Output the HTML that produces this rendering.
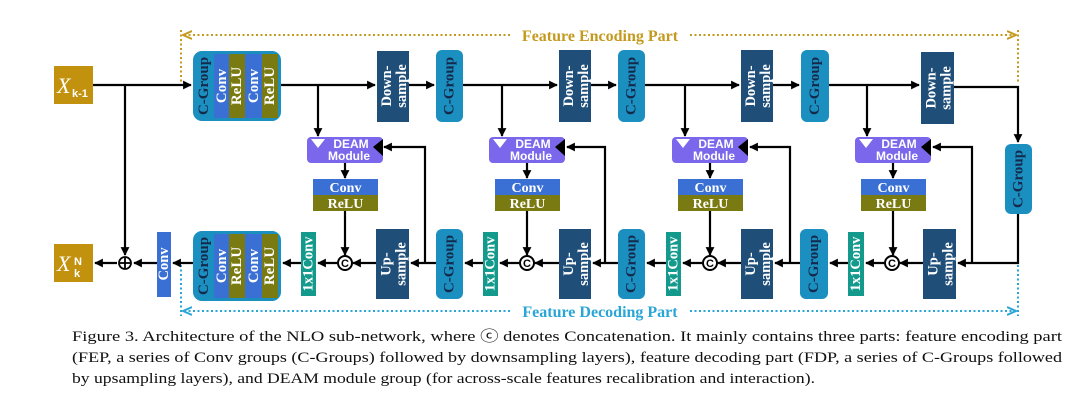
<!DOCTYPE html>
<html><head><meta charset="utf-8"><style>
html,body{margin:0;padding:0;background:#fff;}
svg{display:block;}
.w{font-family:"Liberation Serif",serif;font-weight:bold;fill:#fff;}
.s{font-family:"Liberation Sans",sans-serif;font-weight:bold;fill:#fff;}
.cap{font-family:"Liberation Serif",serif;font-size:15px;fill:#111;}
</style></head><body>
<svg width="1080" height="408" viewBox="0 0 1080 408" xmlns="http://www.w3.org/2000/svg">
<defs>
<marker id="a" viewBox="0 0 10 10" refX="9" refY="5" markerWidth="4" markerHeight="4" orient="auto"><path d="M0,0L10,5L0,10z" fill="#000"/></marker>
<marker id="g" viewBox="0 0 10 10" refX="9" refY="5" markerWidth="5" markerHeight="5" orient="auto"><path d="M0,1L9,5L0,9" fill="none" stroke="#c49a1e" stroke-width="2"/></marker>
<marker id="b" viewBox="0 0 10 10" refX="9" refY="5" markerWidth="5" markerHeight="5" orient="auto"><path d="M0,1L9,5L0,9" fill="none" stroke="#2aa6d6" stroke-width="2"/></marker>
</defs>

<g stroke-width="2" stroke-dasharray="2,2.5" fill="none">
<line x1="510" y1="35" x2="183" y2="35" stroke="#c49a1e" marker-end="url(#g)"/>
<line x1="690" y1="35" x2="1016" y2="35" stroke="#c49a1e" marker-end="url(#g)"/>
<line x1="181" y1="30" x2="181" y2="84" stroke="#c49a1e"/>
<line x1="1018" y1="30" x2="1018" y2="84" stroke="#c49a1e"/>
<line x1="510" y1="311" x2="183" y2="311" stroke="#2aa6d6" marker-end="url(#b)"/>
<line x1="690" y1="311" x2="1016" y2="311" stroke="#2aa6d6" marker-end="url(#b)"/>
<line x1="181" y1="265" x2="181" y2="316" stroke="#2aa6d6"/>
<line x1="1018" y1="265" x2="1018" y2="316" stroke="#2aa6d6"/>
</g>
<text x="600" y="41" text-anchor="middle" font-family="Liberation Serif,serif" font-weight="bold" font-size="16" fill="#c49a1e">Feature Encoding Part</text>
<text x="600" y="317" text-anchor="middle" font-family="Liberation Serif,serif" font-weight="bold" font-size="16" fill="#2aa6d6">Feature Decoding Part</text>

<g stroke="#000" stroke-width="2.2" fill="none">
<line x1="93" y1="85" x2="191" y2="85" marker-end="url(#a)"/>
<line x1="125" y1="85" x2="125" y2="255" marker-end="url(#a)"/>
<line x1="281" y1="85" x2="375" y2="85" marker-end="url(#a)"/>
<line x1="409" y1="85" x2="434" y2="85" marker-end="url(#a)"/>
<line x1="463" y1="85" x2="557" y2="85" marker-end="url(#a)"/>
<line x1="591" y1="85" x2="616" y2="85" marker-end="url(#a)"/>
<line x1="645" y1="85" x2="739" y2="85" marker-end="url(#a)"/>
<line x1="773" y1="85" x2="799" y2="85" marker-end="url(#a)"/>
<line x1="829" y1="85" x2="919" y2="85" marker-end="url(#a)"/>
<polyline points="954,87 1018,87 1018,142" marker-end="url(#a)"/>
<polyline points="1018,214 1018,263 958,263" marker-end="url(#a)"/>
<line x1="318" y1="85" x2="318" y2="136" marker-end="url(#a)"/>
<line x1="502" y1="85" x2="502" y2="136" marker-end="url(#a)"/>
<line x1="685" y1="85" x2="685" y2="136" marker-end="url(#a)"/>
<line x1="867" y1="85" x2="867" y2="136" marker-end="url(#a)"/>
<line x1="436" y1="263" x2="411" y2="263" marker-end="url(#a)"/>
<line x1="376" y1="263" x2="353" y2="263" marker-end="url(#a)"/>
<line x1="337" y1="263" x2="318" y2="263" marker-end="url(#a)"/>
<line x1="301" y1="263" x2="283" y2="263" marker-end="url(#a)"/>
<line x1="193" y1="263" x2="173" y2="263" marker-end="url(#a)"/>
<line x1="157" y1="263" x2="134" y2="263" marker-end="url(#a)"/>
<line x1="117" y1="263" x2="95" y2="263" marker-end="url(#a)"/>
<line x1="618" y1="263" x2="593" y2="263" marker-end="url(#a)"/>
<line x1="559" y1="263" x2="535" y2="263" marker-end="url(#a)"/>
<line x1="519" y1="263" x2="500" y2="263" marker-end="url(#a)"/>
<line x1="483" y1="263" x2="465" y2="263" marker-end="url(#a)"/>
<line x1="800" y1="263" x2="775" y2="263" marker-end="url(#a)"/>
<line x1="741" y1="263" x2="718" y2="263" marker-end="url(#a)"/>
<line x1="702" y1="263" x2="683" y2="263" marker-end="url(#a)"/>
<line x1="666" y1="263" x2="647" y2="263" marker-end="url(#a)"/>
<line x1="923" y1="263" x2="900" y2="263" marker-end="url(#a)"/>
<line x1="884" y1="263" x2="866" y2="263" marker-end="url(#a)"/>
<line x1="848" y1="263" x2="830" y2="263" marker-end="url(#a)"/>
<polyline points="425,263 425,147 384,147" marker-end="url(#a)"/>
<polyline points="605,263 605,147 567,147" marker-end="url(#a)"/>
<polyline points="790,263 790,147 750,147" marker-end="url(#a)"/>
<polyline points="972,263 972,147 933,147" marker-end="url(#a)"/>
<line x1="345" y1="162" x2="345" y2="178" marker-end="url(#a)"/>
<line x1="345" y1="211" x2="345" y2="255" marker-end="url(#a)"/>
<line x1="527" y1="162" x2="527" y2="178" marker-end="url(#a)"/>
<line x1="527" y1="211" x2="527" y2="255" marker-end="url(#a)"/>
<line x1="710" y1="162" x2="710" y2="178" marker-end="url(#a)"/>
<line x1="710" y1="211" x2="710" y2="255" marker-end="url(#a)"/>
<line x1="893" y1="162" x2="893" y2="178" marker-end="url(#a)"/>
<line x1="893" y1="211" x2="893" y2="255" marker-end="url(#a)"/>
</g>

<rect x="54" y="66" width="39" height="38" fill="#c2910e"/>
<text x="57" y="93" font-family="Liberation Serif,serif" font-style="italic" font-size="22" fill="#fff">X</text>
<text x="72" y="97" class="s" font-size="11">k-1</text>
<rect x="54" y="244" width="39" height="38" fill="#c2910e"/>
<text x="57" y="271" font-family="Liberation Serif,serif" font-style="italic" font-size="22" fill="#fff">X</text>
<text x="74" y="265" class="s" font-size="11">N</text>
<text x="74" y="277" class="s" font-size="11">k</text>

<circle cx="125" cy="263" r="6" fill="#fff" stroke="#000" stroke-width="1.8"/>
<line x1="120" y1="263" x2="130" y2="263" stroke="#000" stroke-width="1.8"/>
<line x1="125" y1="258" x2="125" y2="268" stroke="#000" stroke-width="1.8"/>

<g id="big">
<rect x="193" y="51" width="88" height="70" rx="9" fill="#1b8fc0"/>
<rect x="214" y="54" width="15" height="64" fill="#3a6fd4"/>
<rect x="229" y="54" width="16" height="64" fill="#7a7a12"/>
<rect x="245" y="54" width="17" height="64" fill="#3a6fd4"/>
<rect x="262" y="54" width="16" height="64" fill="#7a7a12"/>
<text transform="translate(204,86) rotate(-90)" text-anchor="middle" dominant-baseline="central" class="w" font-size="15" style="fill:#15294a">C-Group</text>
<text transform="translate(222,86) rotate(-90)" text-anchor="middle" dominant-baseline="central" class="w" font-size="15">Conv</text>
<text transform="translate(237,86) rotate(-90)" text-anchor="middle" dominant-baseline="central" class="w" font-size="15">ReLU</text>
<text transform="translate(254,86) rotate(-90)" text-anchor="middle" dominant-baseline="central" class="w" font-size="15">Conv</text>
<text transform="translate(270,86) rotate(-90)" text-anchor="middle" dominant-baseline="central" class="w" font-size="15">ReLU</text>
</g>
<use href="#big" transform="translate(0,180)"/>

<g>
<rect x="436" y="50" width="27" height="72" rx="6" fill="#1b8fc0"/>
<rect x="618" y="50" width="27" height="72" rx="6" fill="#1b8fc0"/>
<rect x="801" y="50" width="28" height="72" rx="6" fill="#1b8fc0"/>
<rect x="1005" y="144" width="27" height="70" rx="6" fill="#1b8fc0"/>
<rect x="436" y="229" width="27" height="70" rx="6" fill="#1b8fc0"/>
<rect x="618" y="229" width="27" height="70" rx="6" fill="#1b8fc0"/>
<rect x="800" y="229" width="28" height="70" rx="6" fill="#1b8fc0"/>
</g>
<g class="w" font-size="15" style="fill:#15294a" text-anchor="middle" dominant-baseline="central">
<text transform="translate(449.5,86) rotate(-90)">C-Group</text>
<text transform="translate(631.5,86) rotate(-90)">C-Group</text>
<text transform="translate(815,86) rotate(-90)">C-Group</text>
<text transform="translate(1018.5,179) rotate(-90)">C-Group</text>
<text transform="translate(449.5,264) rotate(-90)">C-Group</text>
<text transform="translate(631.5,264) rotate(-90)">C-Group</text>
<text transform="translate(814,264) rotate(-90)">C-Group</text>
</g>

<g fill="#1f4e79">
<rect x="377" y="51" width="32" height="71"/>
<rect x="559" y="50" width="32" height="72"/>
<rect x="741" y="50" width="32" height="72"/>
<rect x="921" y="52" width="33" height="72"/>
<rect x="376" y="229" width="33" height="70"/>
<rect x="559" y="229" width="32" height="70"/>
<rect x="741" y="229" width="32" height="70"/>
<rect x="923" y="229" width="33" height="70"/>
</g>
<g class="w" font-size="14.5" text-anchor="middle">
<text transform="translate(393,86) rotate(-90)"><tspan x="0" y="-2">Down-</tspan><tspan x="0" y="13">sample</tspan></text>
<text transform="translate(575,86) rotate(-90)"><tspan x="0" y="-2">Down-</tspan><tspan x="0" y="13">sample</tspan></text>
<text transform="translate(757,86) rotate(-90)"><tspan x="0" y="-2">Down-</tspan><tspan x="0" y="13">sample</tspan></text>
<text transform="translate(937.5,88) rotate(-90)"><tspan x="0" y="-2">Down-</tspan><tspan x="0" y="13">sample</tspan></text>
<text transform="translate(392.5,264) rotate(-90)"><tspan x="0" y="-2">Up-</tspan><tspan x="0" y="13">sample</tspan></text>
<text transform="translate(575,264) rotate(-90)"><tspan x="0" y="-2">Up-</tspan><tspan x="0" y="13">sample</tspan></text>
<text transform="translate(757,264) rotate(-90)"><tspan x="0" y="-2">Up-</tspan><tspan x="0" y="13">sample</tspan></text>
<text transform="translate(939.5,264) rotate(-90)"><tspan x="0" y="-2">Up-</tspan><tspan x="0" y="13">sample</tspan></text>
</g>

<g fill="#149a8c">
<rect x="301" y="232" width="15" height="64"/>
<rect x="483" y="232" width="15" height="64"/>
<rect x="666" y="232" width="15" height="64"/>
<rect x="848" y="232" width="16" height="64"/>
</g>
<rect x="157" y="232" width="14" height="65" fill="#3a6fd4"/>
<g class="w" font-size="14.5" text-anchor="middle" dominant-baseline="central">
<text transform="translate(308.5,264) rotate(-90)">1x1Conv</text>
<text transform="translate(490.5,264) rotate(-90)">1x1Conv</text>
<text transform="translate(673.5,264) rotate(-90)">1x1Conv</text>
<text transform="translate(856,264) rotate(-90)">1x1Conv</text>
<text transform="translate(164,264) rotate(-90)">Conv</text>
</g>

<g font-family="Liberation Sans,sans-serif" font-weight="bold" font-size="11" text-anchor="middle">
<circle cx="345" cy="263" r="7" fill="#fff" stroke="#000" stroke-width="2"/><text x="345" y="267">C</text>
<circle cx="527" cy="263" r="7" fill="#fff" stroke="#000" stroke-width="2"/><text x="527" y="267">C</text>
<circle cx="710" cy="263" r="7" fill="#fff" stroke="#000" stroke-width="2"/><text x="710" y="267">C</text>
<circle cx="892" cy="263" r="7" fill="#fff" stroke="#000" stroke-width="2"/><text x="892" y="267">C</text>
</g>

<g id="deam">
<rect x="307" y="137" width="76" height="26" rx="4" fill="#7b67ec"/>
<path d="M311,139 L325,139 L318,148 Z" fill="#fff"/>
<path d="M383,139 L383,156 L373,147 Z" fill="#000"/>
<text x="351" y="148" text-anchor="middle" class="s" font-size="12">DEAM</text>
<text x="349" y="160" text-anchor="middle" class="s" font-size="12">Module</text>
<rect x="313" y="179" width="65" height="16" fill="#3a6fd4"/>
<rect x="313" y="195" width="65" height="16" fill="#7a7a12"/>
<text x="345.5" y="192" text-anchor="middle" class="w" font-size="14">Conv</text>
<text x="345.5" y="208" text-anchor="middle" class="w" font-size="14">ReLU</text>
</g>
<use href="#deam" transform="translate(182,0)"/>
<use href="#deam" transform="translate(365,0)"/>
<use href="#deam" transform="translate(548,0)"/>

<text class="cap" x="72" y="341" textLength="990" lengthAdjust="spacingAndGlyphs">Figure 3. Architecture of the NLO sub-network, where ⓒ denotes Concatenation. It mainly contains three parts: feature encoding part</text>
<text class="cap" x="72" y="362" textLength="990" lengthAdjust="spacingAndGlyphs">(FEP, a series of Conv groups (C-Groups) followed by downsampling layers), feature decoding part (FDP, a series of C-Groups followed</text>
<text class="cap" x="72" y="383" textLength="743" lengthAdjust="spacingAndGlyphs">by upsampling layers), and DEAM module group (for across-scale features recalibration and interaction).</text>
</svg>
</body></html>
